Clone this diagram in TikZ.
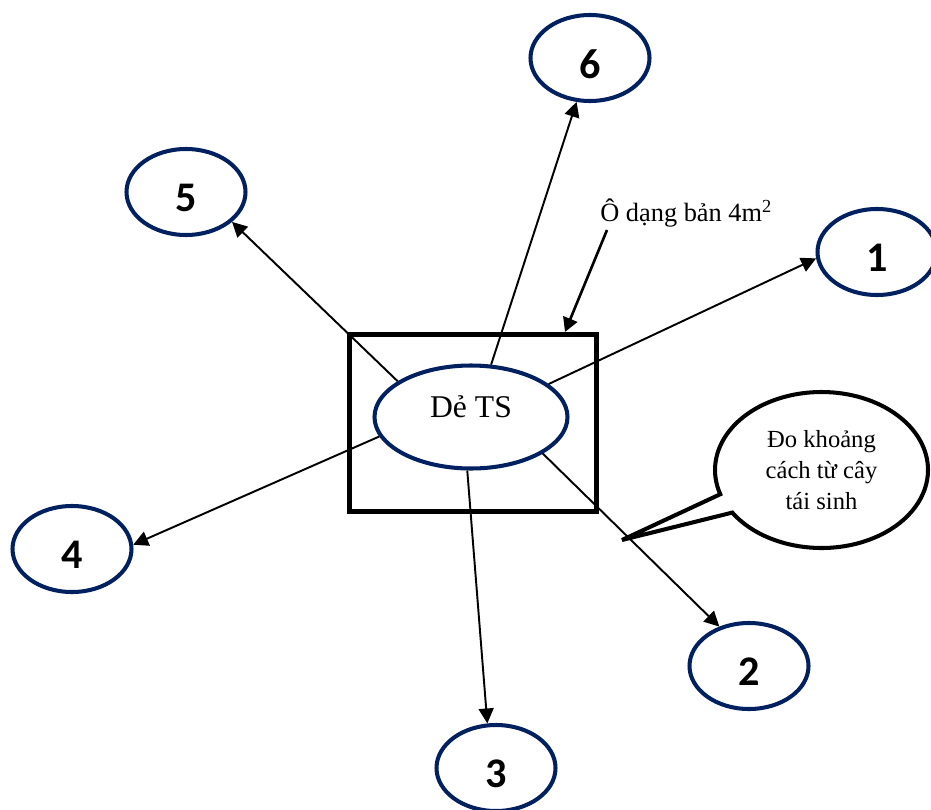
\documentclass[tikz,border=0pt]{standalone}
\usepackage{fontspec}
\setmainfont{Liberation Serif}
\newfontfamily\numfont{Carlito}
\usepackage{xcolor}
\usepackage{tikz}
\usetikzlibrary{arrows.meta, positioning, shapes.geometric, shapes.callouts}
\definecolor{DarkNavy}{HTML}{002060}

\begin{document}
\begin{tikzpicture}[
    spot/.style={ellipse, draw=DarkNavy, line width=2.3pt, fill=white, minimum width=2.38cm, minimum height=1.72cm, inner sep=0pt},
    num/.style={font=\numfont\bfseries\fontsize{24}{27}\selectfont},
    treebox/.style={ellipse, draw=DarkNavy, line width=2.3pt, fill=white, minimum width=3.86cm, minimum height=2.06cm, inner sep=0pt},
    quadbox/.style={draw, line width=2.9pt, minimum width=4.94cm, minimum height=3.54cm},
    link/.style={-{Triangle[length=8.5pt, width=8.5pt]}, line width=1.1pt},
    bubble/.style={ellipse callout, draw, line width=2.3pt, minimum width=4.26cm, minimum height=3.12cm, inner sep=0pt, align=center, font=\fontsize{14}{17.6}\selectfont}
]
\useasboundingbox (0,0) rectangle (18.62,16.18);

% Plot and centre tree
\node[quadbox] (quad) at (9.46, 7.72) {};
\node[treebox] (ts) at (9.42, 7.84) {};
\node[font=\fontsize{18}{21}\selectfont] at ([yshift=0.2cm]ts.center) {Dẻ TS};

% Neighbour trees
\node[spot] (n1) at (17.54, 11.14) {};
\node[num] at ([yshift=-0.12cm]n1.center) {1};

\node[spot] (n2) at (14.98, 2.86) {};
\node[num] at ([yshift=-0.12cm]n2.center) {2};

\node[spot] (n3) at (9.92, 0.82) {};
\node[num] at ([yshift=-0.12cm]n3.center) {3};

\node[spot] (n4) at (1.44, 5.20) {};
\node[num] at ([yshift=-0.12cm]n4.center) {4};

\node[spot] (n5) at (3.72, 12.34) {};
\node[num] at ([yshift=-0.12cm]n5.center) {5};

\node[spot] (n6) at (11.80, 15.02) {};
\node[num] at ([yshift=-0.12cm]n6.center) {6};

% Distances
\draw[link] (ts.23) -- (n1.186);
\draw[link] (ts.333) -- (n2.127);
\draw[link] (ts.266) -- (n3.101);
\draw[link] (ts.192) -- (n4.4);
\draw[link] (ts.154) -- (n5.327);
\draw[link] (ts.69) -- (n6.253);

% Labels
\node[inner sep=0pt, anchor=base west, font=\fontsize{15}{18}\selectfont] (lbl) at (12.0, 11.74) {Ô dạng bản 4m\textsuperscript{2}};
\draw[-{Triangle[length=8pt, width=8.5pt]}, line width=1.5pt] ([shift={(0.14,-0.16)}]lbl.base west) -- ([xshift=1.84cm]quad.north);

\node[bubble, callout absolute pointer={(12.44,5.38)}] (note) at (16.43, 6.78) {Đo khoảng\\cách từ cây\\tái sinh};
\end{tikzpicture}
\end{document}
